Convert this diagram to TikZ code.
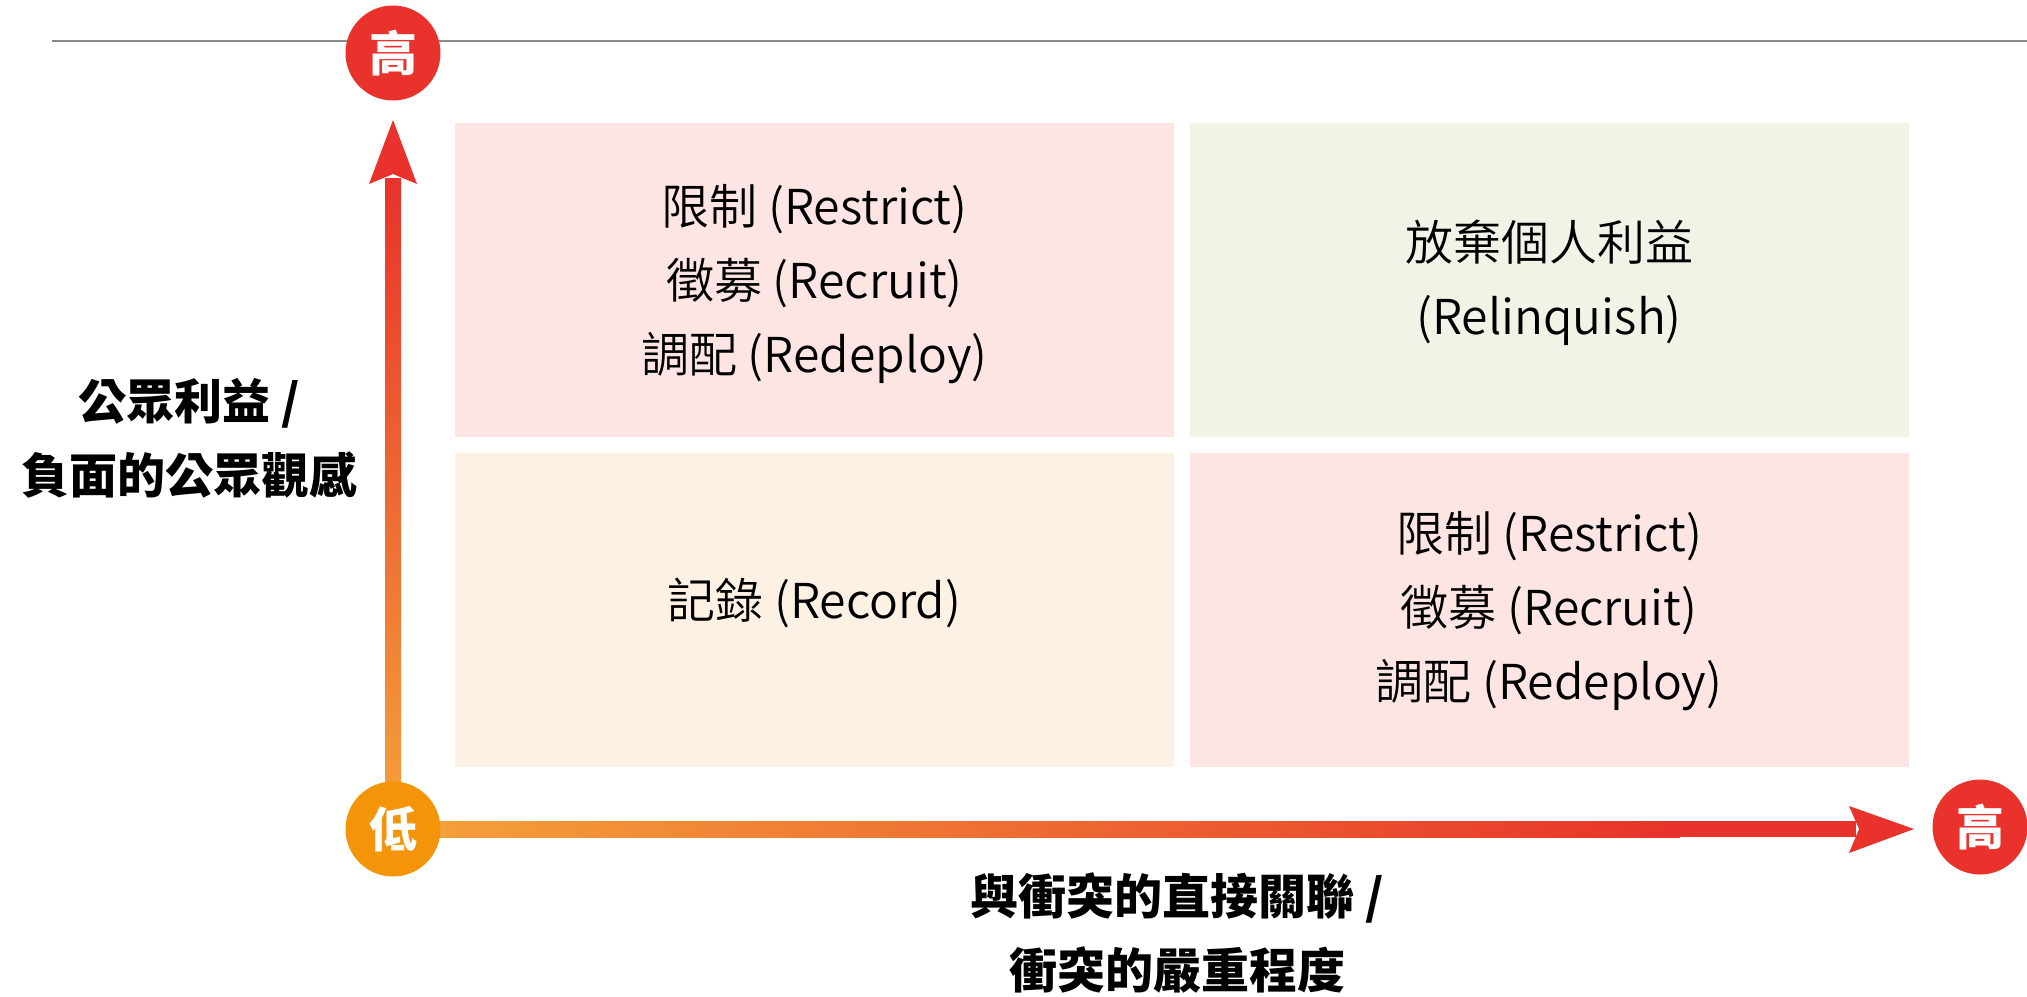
\documentclass[tikz,border=0pt]{standalone}
\usepackage{fontspec}
\setmainfont{Noto Sans CJK TC}
\newfontfamily\quadfont{Noto Sans CJK TC DemiLight}
\usetikzlibrary{calc}
\pgfdeclarelayer{bg}
\pgfsetlayers{bg,main}
\definecolor{redc}{HTML}{E8322B}
\definecolor{orangec}{HTML}{F39409}
\definecolor{arrowor}{HTML}{F4A33A}
\definecolor{pinkbox}{HTML}{FCE5E3}
\definecolor{greenbox}{HTML}{F0F3E6}
\definecolor{creambox}{HTML}{FCF1E3}
\definecolor{rulegray}{HTML}{8A8A8A}
\tikzset{
  circ/.style={circle, minimum size=47.5pt, inner sep=0pt, text=white,
    font=\fontsize{24}{24}\selectfont\bfseries},
  quad/.style={rectangle, inner sep=0pt, minimum width=359.5pt, minimum height=157pt},
  qtext/.style={align=center, inner sep=0pt, font=\quadfont\fontsize{24}{37}\selectfont},
  axislabel/.style={align=center, font=\fontsize{24}{37}\selectfont\bfseries},
  head/.style={fill=redc, draw=none}
}
\begin{document}
\begin{tikzpicture}[x=0.5pt, y=-0.5pt]
\useasboundingbox (0,0) rectangle (2027,996);
% top rule
\coordinate (ruleL) at (52,41);
\coordinate (ruleR) at (2027,41);
\draw[rulegray, line width=1pt] (ruleL) -- (ruleR);
% circles
\node[circ, fill=redc] (hiY) at (393,53) {高};
\node[circ, fill=orangec] (lo) at (393,829) {低};
\node[circ, fill=redc] (hiX) at (1980,827) {高};
% arrow tips
\coordinate (tipV) at (393,120);
\coordinate (tipH) at (1914,829);
\begin{pgfonlayer}{bg}
  % vertical shaft
  \shade[bottom color=arrowor, top color=redc]
    ($(lo.center)+(-8,0)$) rectangle ($(tipV)+(8,58)$);
  \fill[head] (tipV) -- ++(-24,64) -- ++(24,-10) -- ++(24,10) -- cycle;
  % horizontal shaft
  \shade[left color=arrowor, right color=redc]
    ($(lo.center)+(0,-8)$) rectangle (1680,837);
  \fill[redc] (1679,821) rectangle ($(tipH)+(-58,8)$);
  \fill[head] (tipH) -- ++(-65,-23) -- ++(10,23) -- ++(-10,24) -- cycle;
\end{pgfonlayer}
% quadrants
\node[quad, fill=pinkbox] (tl) at (814.5,280) {};
\node[quad, fill=greenbox] (tr) at (1549,280) {};
\node[quad, fill=creambox] (bl) at (814.5,609.5) {};
\node[quad, fill=pinkbox] (br) at (1549,609.5) {};
\node[qtext] (tlt) at ($(tl.center)+(0,4)$)
  {限制 (Restrict)\\徵募 (Recruit)\\調配 (Redeploy)};
\node[qtext] (trt) at ($(tr.center)+(0,3)$)
  {放棄個人利益\\(Relinquish)};
\node[qtext] (blt) at ($(bl.center)+(0,-7)$) {記錄 (Record)};
\node[qtext] (brt) at ($(br.center)+(0,2)$)
  {限制 (Restrict)\\徵募 (Recruit)\\調配 (Redeploy)};
% axis labels
\node[axislabel] (ylab) at (189,438) {公眾利益 /\\負面的公眾觀感};
\node[axislabel] (xlab) at (1177,933) {與衝突的直接關聯 /\\衝突的嚴重程度};
\end{tikzpicture}
\end{document}
